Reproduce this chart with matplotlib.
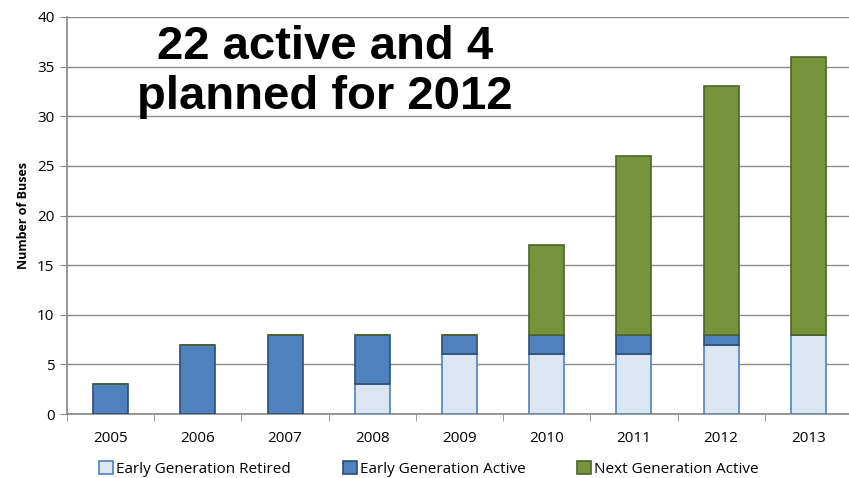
import matplotlib
matplotlib.use("Agg")
import matplotlib.pyplot as plt
import numpy as np

years = ["2005", "2006", "2007", "2008", "2009", "2010", "2011", "2012", "2013"]
early_retired = [0, 0, 0, 3, 6, 6, 6, 7, 8]
early_active = [3, 7, 8, 5, 2, 2, 2, 1, 0]
next_active = [0, 0, 0, 0, 0, 9, 18, 25, 28]

series_names = ["Early Generation Retired", "Early Generation Active", "Next Generation Active"]

fig = plt.figure(figsize=(8.49, 4.78), dpi=100)
ax = fig.add_axes([67 / 849, 1 - 414 / 478, (852 - 67) / 849, (414 - 17) / 478])

x = np.arange(len(years))
w = 0.4
b1 = ax.bar(x, early_retired, w, color="#DCE6F2", edgecolor="#4F81BD", linewidth=1.2,
            label=series_names[0], zorder=3)
b2 = ax.bar(x, early_active, w, bottom=early_retired, color="#4F81BD", edgecolor="#2C4D75",
            linewidth=1.2, label=series_names[1], zorder=3)
bottom3 = np.array(early_retired) + np.array(early_active)
b3 = ax.bar(x, next_active, w, bottom=bottom3, color="#77933C", edgecolor="#4F6228",
            linewidth=1.2, label=series_names[2], zorder=3)

ax.set_xlim(-0.5, len(years) - 0.5)
ax.set_ylim(0, 40)
ax.set_yticks(range(0, 41, 5))
ax.set_xticks(x)
ax.set_xticklabels(years)
ax.set_xticks(np.arange(-0.5, len(years), 1), minor=True)

for lbl in ax.get_xticklabels() + ax.get_yticklabels():
    lbl.set_fontfamily("Open Sans")
    lbl.set_fontsize(11)

ax.tick_params(axis="x", which="major", length=0, pad=12)
ax.tick_params(axis="x", which="minor", length=5, color="#868686", direction="out")
ax.tick_params(axis="y", length=5, color="#868686", direction="out", pad=4)

ax.grid(axis="y", color="#8C8C8C", linewidth=1.0, zorder=0)
for s in ["top", "right"]:
    ax.spines[s].set_visible(False)
for s in ["left", "bottom"]:
    ax.spines[s].set_color("#868686")
    ax.spines[s].set_linewidth(1.2)

ax.set_ylabel("Number of Buses", fontfamily="Open Sans", fontweight="bold", fontsize=9, labelpad=5)

fig.text(325 / 849, 1 - 72 / 478, "22 active and 4\nplanned for 2012", ha="center", va="center",
         fontfamily="Liberation Sans", fontweight="bold", fontsize=34, linespacing=1.2)

leg = fig.legend(handles=[b1, b2, b3], labels=series_names, loc="center", ncol=3,
                 bbox_to_anchor=(429 / 849, 1 - 469 / 478), frameon=False,
                 prop={"family": "Open Sans", "size": 11}, handlelength=0.9, handleheight=0.9,
                 handletextpad=0.2, columnspacing=3.4)

fig.savefig("out.png", dpi=100)
